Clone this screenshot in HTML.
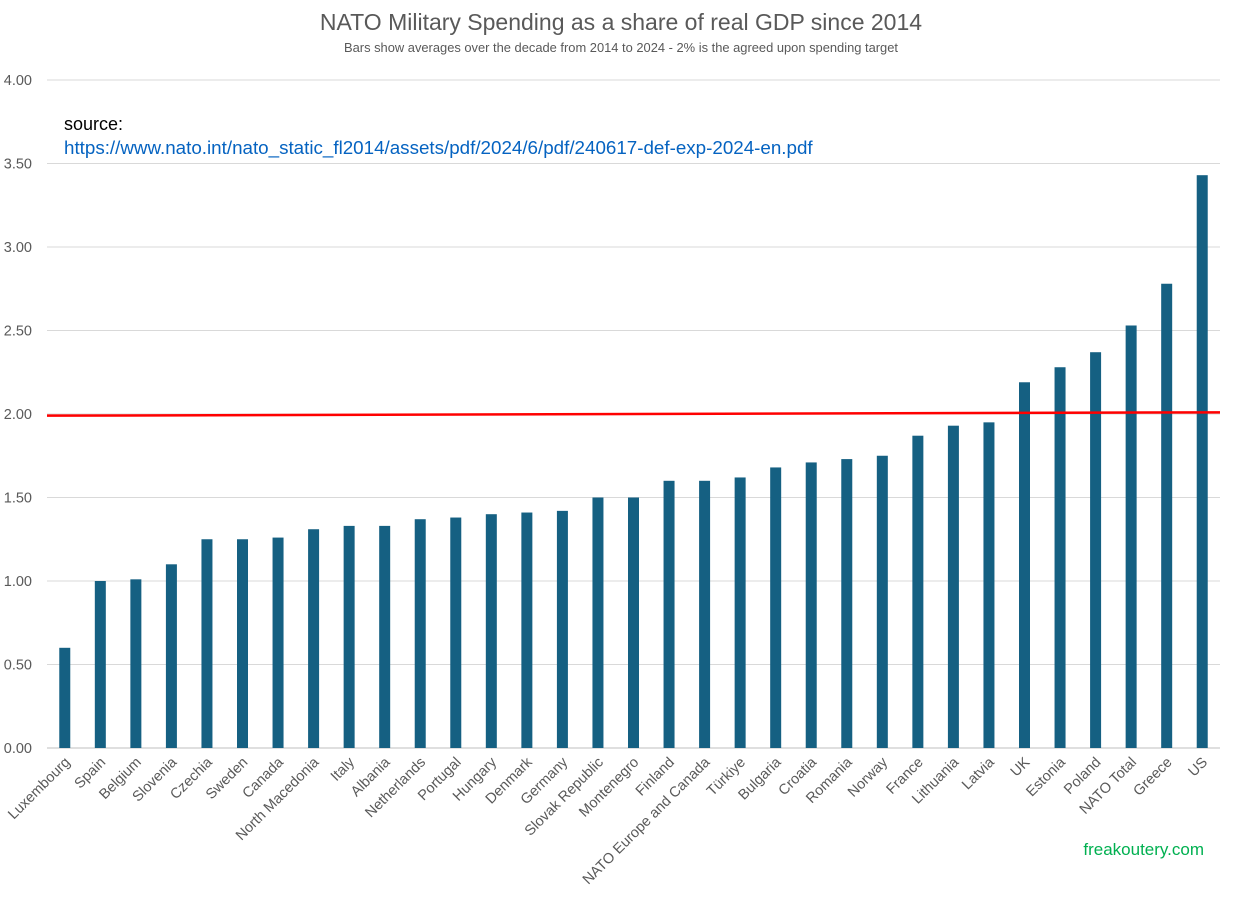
<!DOCTYPE html>
<html><head><meta charset="utf-8"><style>
body{margin:0;background:#fff;font-family:"Liberation Sans",sans-serif}
</style></head><body>
<svg width="1235" height="898" xmlns="http://www.w3.org/2000/svg" font-family="Liberation Sans, sans-serif">
<rect width="1235" height="898" fill="#fff"/>
<text x="621" y="30" text-anchor="middle" font-size="23" fill="#595959">NATO Military Spending as a share of real GDP since 2014</text>
<text x="621" y="52" text-anchor="middle" font-size="12.9" fill="#595959">Bars show averages over the decade from 2014 to 2024 - 2% is the agreed upon spending target</text>
<g id="grid"></g><g id="bars"></g><g id="xl"></g>
<text x="64" y="130" font-size="18" fill="#000">source:</text>
<text x="64" y="154" font-size="18.8" fill="#0563C1">https://www.nato.int/nato_static_fl2014/assets/pdf/2024/6/pdf/240617-def-exp-2024-en.pdf</text>
<text x="1204" y="855" text-anchor="end" font-size="17" fill="#00B050">freakoutery.com</text>
</svg>
<script>
const categories=["Luxembourg","Spain","Belgium","Slovenia","Czechia","Sweden","Canada","North Macedonia","Italy","Albania","Netherlands","Portugal","Hungary","Denmark","Germany","Slovak Republic","Montenegro","Finland","NATO Europe and Canada","Türkiye","Bulgaria","Croatia","Romania","Norway","France","Lithuania","Latvia","UK","Estonia","Poland","NATO Total","Greece","US"];
const values=[0.60,1.00,1.01,1.10,1.25,1.25,1.26,1.31,1.33,1.33,1.37,1.38,1.40,1.41,1.42,1.50,1.50,1.60,1.60,1.62,1.68,1.71,1.73,1.75,1.87,1.93,1.95,2.19,2.28,2.37,2.53,2.78,3.43];
const yTicks=[0,0.5,1,1.5,2,2.5,3,3.5,4];
const targetLine=[1.99,2.01];
const NS="http://www.w3.org/2000/svg";
const x0=47,x1=1220,y0=748,yTop=80,yMax=4;
const y=v=>y0-(v/yMax)*(y0-yTop);
const step=(x1-x0)/categories.length;
const xc=i=>x0+step*(i+0.5);
function mk(t,a,p){const e=document.createElementNS(NS,t);for(const k in a)e.setAttribute(k,a[k]);p.appendChild(e);return e;}
const g=document.getElementById('grid');
yTicks.forEach(v=>{
 const l=mk('line',{x1:x0,x2:x1,y1:y(v),y2:y(v),stroke:v===0?'#bfbfbf':'#d9d9d9','stroke-width':1},g);
 
 
 const t=mk('text',{x:32,y:y(v)+5,'text-anchor':'end','font-size':14.5,fill:'#595959'},g);
 t.textContent=v.toFixed(2);
 
 
});
const b=document.getElementById('bars');
values.forEach((v,i)=>{
 const r=mk('rect',{x:xc(i)-5.5,y:y(v),width:11,height:y0-y(v),fill:'#156082'},b);
 
 
});
const tl=mk('line',{x1:x0,x2:x1,y1:y(targetLine[0]),y2:y(targetLine[1]),stroke:'#ff0000','stroke-width':2.5},b);


const xl=document.getElementById('xl');
categories.forEach((c,i)=>{
 const X=xc(i)+6,Y=763;
 const t=mk('text',{x:X,y:Y,'text-anchor':'end','font-size':14.5,fill:'#595959',transform:`rotate(-45 ${X} ${Y})`},xl);
 t.textContent=c;
 
 
});
</script>
</body></html>
